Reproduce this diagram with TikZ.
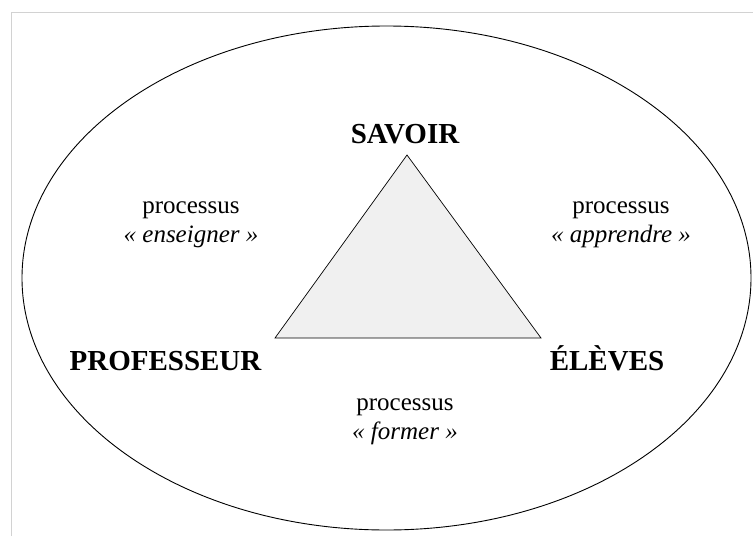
\documentclass[tikz,border=0pt]{standalone}
\usepackage{fontspec}
\setmainfont{Liberation Serif}

\tikzset{
	pole/.style={anchor=base, font=\fontsize{29}{34}\selectfont\bfseries},
	proc/.style={align=center, font=\fontsize{25}{29}\selectfont}
}

\begin{document}
\begin{tikzpicture}[x=1pt, y=-1pt]

	\useasboundingbox (0,0) rectangle (753,536);

	\draw[gray!35] (11,536) -- (11,12) -- (753,12);

	\draw[line width=0.9pt] (386.5,278) ellipse (364.5 and 252);

	\coordinate (s) at (407,155);
	\coordinate (p) at (275,338);
	\coordinate (e) at (541,338);
	\filldraw[fill=gray!12, line width=0.7pt] (s) -- (p) -- (e) -- cycle;

	\node[pole] (savoir) at (405,143) {SAVOIR};
	\node[pole] (prof) at (165.5,370) {PROFESSEUR};
	\node[pole] (eleves) at (607,370) {ÉLÈVES};

	\node[proc] (enseigner) at (191,225) {processus\\\textit{« enseigner »}};
	\node[proc] (apprendre) at (621,225) {processus\\\textit{« apprendre »}};
	\node[proc] (former) at (405,422) {processus\\\textit{« former »}};

\end{tikzpicture}
\end{document}
